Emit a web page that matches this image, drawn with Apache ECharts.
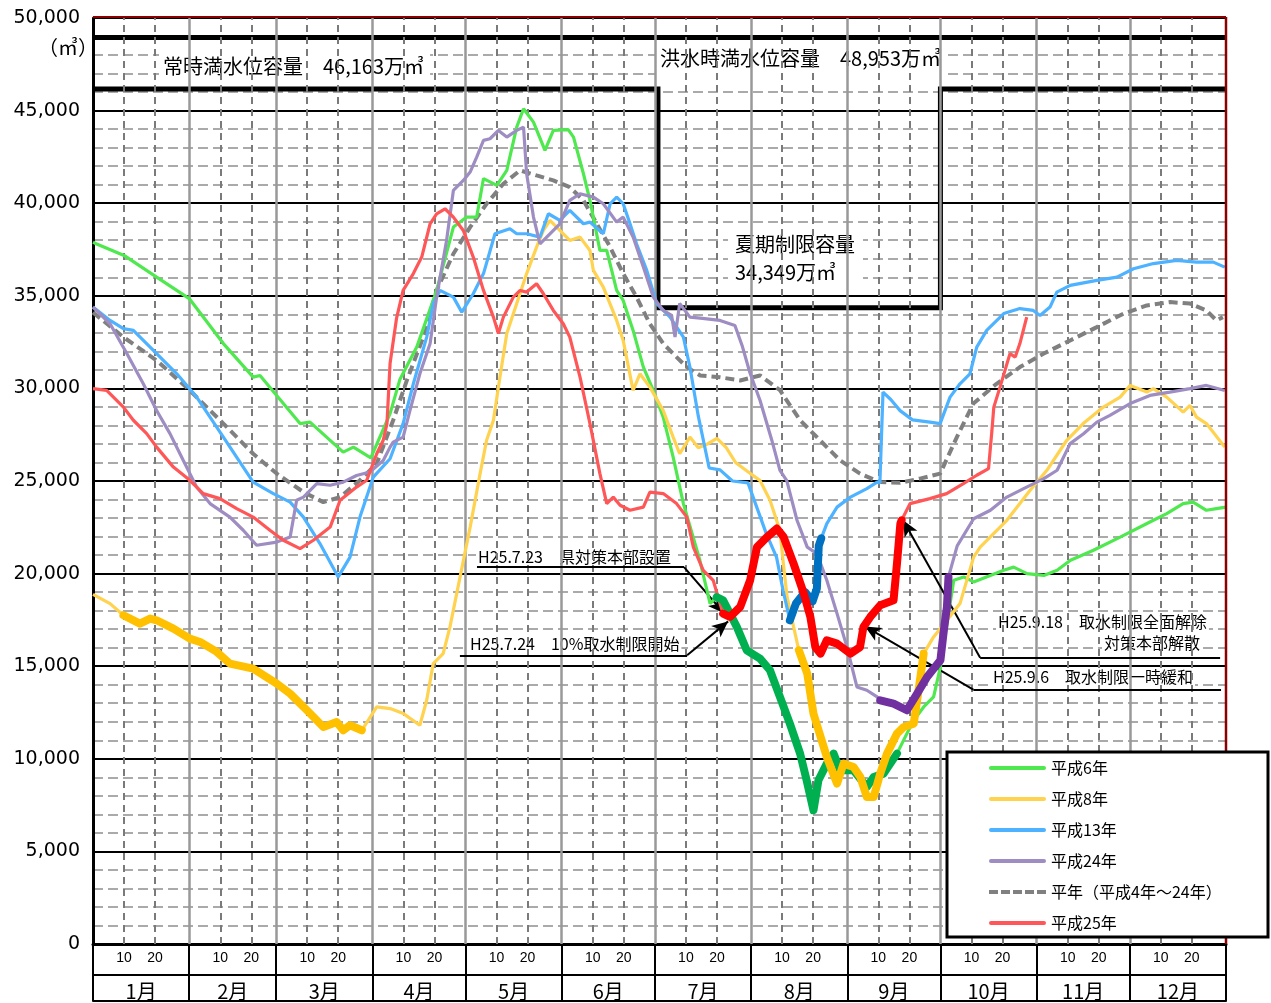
<!DOCTYPE html>
<html><head><meta charset="utf-8">
<script src="https://cdn.jsdelivr.net/npm/echarts@6/dist/echarts.min.js"></script>
<style>html,body{margin:0;padding:0;background:#fff}#c{width:1271px;height:1003px}</style>
</head><body><div id="c"></div>
<script>
// ---- axis / category data ----
const monthNames = ['1月','2月','3月','4月','5月','6月','7月','8月','9月','10月','11月','12月'];
const monthStarts = [0,31,59,90,120,151,181,212,243,273,304,334,365];
const dayTicks = [10,20];

// ---- reservoir capacities (万m3) ----
const capFlood = 48953;
const capNormal = 46163;
const capSummer = 34349;
const summerStart = 182;
const summerEnd = 273;

// ---- series values [day of year, storage] ----
const h6 = [[0,37900],[1,37810],[10,37180],[20.5,36010],[31,34850],[42,32420],[51.6,30610],[53.8,30700],[66.7,28100],[69.9,28180],[80.6,26560],[83.9,26830],[89.5,26250],[95.7,28640],[98.9,30500],[104.3,32230],[110.7,35290],[116.1,38710],[120.4,39250],[123.6,39250],[125.8,41330],[130.1,40960],[133.3,41770],[136.5,44110],[138.7,45100],[141.9,44380],[145.6,42850],[148.3,43930],[153.1,43970],[154.8,43570],[158,41590],[160.1,40150],[163.3,37450],[165.5,37450],[168.7,35290],[170.8,34750],[174,33130],[177.3,31150],[180.5,29890],[183.7,28450],[186.9,26290],[190.2,23780],[195.5,20720],[198.8,18380],[200.9,18730],[203,18560],[207.4,17120],[210.6,15860],[214.9,15410],[218.1,14780],[221.3,13340],[224.5,11900],[227.8,10280],[229.9,8840],[232.1,7220],[233.7,8840],[236.4,9740],[238.6,10280],[240.7,9380],[245,9380],[249.3,8480],[251.5,9020],[254.7,9200],[259,10280],[262.2,11360],[264.4,12080],[267.6,12800],[270.8,13340],[273,14960],[275.1,17300],[277.3,19640],[280.5,19820],[283.7,19550],[293.4,20180],[296.6,20350],[300.9,20000],[306.3,19900],[310.6,20180],[314.9,20720],[322.3,21260],[330.9,21970],[341.6,22880],[345.9,23240],[351.2,23780],[354.4,23860],[358.7,23420],[361.9,23510],[365,23590]];
const h8 = [[0,18880],[5.5,18380],[9.8,17750],[15.1,17300],[18.4,17570],[20.5,17480],[25.9,17030],[31.2,16490],[34.5,16310],[39.9,15770],[44.1,15140],[51.6,14870],[59.2,14060],[63.5,13520],[68.9,12620],[74.2,11720],[78.5,11990],[80.6,11540],[82.8,11810],[86.6,11540],[91.4,12800],[95.7,12710],[100,12440],[105.3,11810],[107.5,13160],[109.6,15140],[112.8,15680],[115,17120],[121.5,22510],[124.7,25400],[126.8,27200],[129,28280],[131.1,30610],[133.3,32960],[136.5,34580],[139.7,36200],[142.9,37630],[145.1,38530],[147.2,39070],[150.4,38530],[153.6,37990],[156.9,38170],[160.1,37450],[161.2,36370],[164.4,35470],[168.7,33670],[170.8,32590],[174,29890],[176.2,30790],[179.4,30070],[183.7,28810],[186.9,27370],[189,26470],[192.3,27370],[195,26800],[198,27000],[201,27300],[204,26800],[207,26000],[211,25500],[214.9,25020],[218.1,23960],[221.3,22330],[222.4,20540],[223.6,18740],[225.7,17120],[227.4,15860],[230.1,14600],[232.1,12440],[234.4,11180],[236.4,10100],[239.7,8660],[241.8,9740],[245,9560],[247.2,9020],[249.3,7940],[251.5,7940],[253.6,9200],[255.8,10280],[259,11360],[261.2,11720],[264.4,11900],[265.5,13160],[267.6,15680],[270.8,16580],[275.1,17480],[279.3,18380],[283.7,20890],[285.8,21430],[294.4,22880],[301.9,24500],[307.3,25580],[313.7,27200],[319,28100],[325.5,28990],[330.9,29530],[334.1,30160],[339.5,29800],[341.6,29990],[345.9,29530],[351.2,28720],[353.4,29080],[355.5,28450],[358.7,28100],[364.6,26830]];
const h13 = [[0,34390],[5.5,33670],[9.8,33230],[13,33130],[20.5,31880],[27,30790],[33.4,29530],[42,27370],[51.6,24940],[58.1,24320],[63.5,23860],[67.8,23050],[73.1,21620],[79,19820],[82.8,20890],[86,23050],[90.3,25210],[95.7,26200],[99.9,28100],[103.2,30250],[107.5,32770],[109.6,34580],[111.8,35290],[116.1,34930],[118.8,34120],[122.5,35110],[125.8,36200],[129.5,38350],[134.3,38620],[136.5,38350],[139.7,38350],[144,38170],[146.7,39430],[150.4,39070],[153.6,39610],[158,38890],[160.1,38980],[164.4,38350],[166.6,39970],[168.7,40330],[170.8,39970],[173,38890],[175.1,37810],[178.4,36370],[181.6,34580],[185.9,33850],[190.2,32770],[192.3,31150],[195,28500],[198.5,25700],[202,25600],[206,25000],[211,24900],[216.9,22160],[220.2,20890],[222.3,19100],[224.5,17480],[226.5,18400],[229.4,19000],[231.8,18500],[233.2,19200],[233.8,21500],[234.6,21900],[236.4,22700],[239.7,23590],[244,24130],[249.3,24590],[252.6,24940],[253.5,24900],[254.5,29800],[257,29400],[260,28800],[264,28300],[269.6,28180],[272.9,28100],[276.1,29530],[279.3,30250],[282.5,30790],[284.7,32230],[287.9,33130],[293.4,34040],[298.6,34310],[302.9,34210],[305.1,33940],[308.3,34390],[310.5,35200],[314.8,35560],[323.4,35830],[329.9,36010],[335.2,36460],[341.6,36740],[349.1,36910],[355.5,36820],[360.9,36820],[364.6,36550]];
const h24 = [[0,34390],[5.5,33490],[10.9,31880],[16.2,30250],[20.5,28810],[24.8,27560],[29.1,26110],[33.4,24670],[37.7,23780],[44.1,23050],[48.4,22340],[52.7,21530],[59.2,21700],[63.5,21970],[65.6,23960],[67.8,24130],[72.1,24860],[76.4,24770],[80.6,24940],[84.9,25300],[89.2,25490],[93.5,26110],[95.7,26830],[96.7,27100],[99.9,27370],[102.1,28800],[105.3,30790],[108.6,32420],[110.7,34930],[113.9,37990],[116.1,40690],[119.3,41230],[121.5,41680],[123.6,42490],[125.8,43390],[127.9,43480],[130.6,43930],[133.3,43570],[136.5,43930],[138.7,44110],[139.7,41590],[141.9,39250],[144,37810],[147.2,38350],[150.4,38890],[153.6,40150],[156.9,40510],[161.2,40330],[164.4,39970],[168.7,38980],[170.8,39250],[174,38170],[177.3,36550],[180.5,34930],[183.7,34210],[186.4,33940],[187.5,32770],[189,34580],[192.3,33850],[195.6,33790],[202,33670],[206.8,33400],[209.1,32320],[211.6,30860],[214.9,29350],[218.7,27190],[221.3,25570],[223.5,25020],[226.8,22880],[230.1,21430],[233.2,21080],[236.4,19640],[239.7,17840],[242.9,16030],[246.1,13880],[249.3,13700],[252.6,13340],[253.6,13160],[257.9,12980],[262.2,12620],[265.5,13520],[268.7,14420],[273,15320],[274.1,16940],[275.1,18200],[275.6,19820],[278.4,21500],[283.7,22960],[289.1,23420],[294.4,24130],[299.8,24590],[306.3,25130],[310.6,25580],[314.8,27020],[319.1,27550],[323.4,28180],[327.6,28540],[334.1,29180],[340.5,29620],[346.9,29800],[353.4,29990],[358.7,30160],[364.6,29890]];
const heinen = [[0,34100],[9.8,32770],[20.5,31510],[31.2,29890],[42,28100],[51.6,26470],[59.2,25400],[67.8,24400],[74.2,23860],[79.6,24130],[86,25040],[91.4,25940],[96.7,28280],[101.1,30430],[106.4,32770],[110.7,35290],[116.1,37270],[121.5,38710],[126.8,39970],[132.2,41050],[137.6,41770],[142.9,41500],[148.3,41230],[153.6,40870],[158,40150],[162.3,38890],[166.6,37630],[170.8,36200],[175.1,34930],[179.4,33490],[183.7,32420],[188,31690],[191.3,31150],[195.6,30700],[202,30600],[208.5,30430],[214.9,30700],[221.3,29900],[227.8,28280],[234.2,27200],[240.7,26110],[247.1,25400],[253.5,24940],[260,24900],[266.4,25130],[272.9,25400],[278.3,27370],[283.6,29180],[291.1,30250],[298.6,31150],[306.3,31880],[314.8,32590],[323.4,33310],[332,34040],[339.5,34480],[347,34660],[353.4,34580],[358.7,34210],[361.9,33670],[364,33850]];
const h25 = [[0,29990],[4.4,29890],[9.8,28990],[13,28280],[17.3,27560],[20.5,26830],[25.9,25750],[31.2,25040],[35.5,24320],[40.9,24050],[46.3,23510],[51.6,23050],[57,22340],[61.3,21800],[66.7,21350],[71,21800],[76.4,22510],[79.6,23960],[84.9,24670],[88.2,25040],[91.4,26470],[93.5,27200],[94.7,28100],[95.7,31340],[97.8,33800],[99.9,35290],[103.2,36200],[105.9,37090],[108.6,38890],[110.7,39430],[113.4,39700],[116.1,39250],[119.3,38530],[122.5,37090],[125.8,35290],[129,33850],[130.6,32960],[132.2,33850],[135.4,34930],[137.6,35290],[139.7,35200],[142.9,35650],[145.1,35110],[148.3,34210],[151.5,33490],[153.6,32770],[156.9,30610],[160.1,28100],[163.3,25400],[165.5,23780],[167.6,24130],[169.8,23690],[173,23420],[177.3,23590],[179.4,24400],[183.7,24320],[188,23780],[191.3,23050],[193.4,21430],[196.6,20180],[199.8,19640],[202,18380],[203,17840],[205.2,17660],[208.5,18200],[211.7,19640],[213.9,21430],[217.1,21970],[220.3,22430],[222.5,21970],[225.7,20540],[229,18920],[231.1,17660],[232.7,16030],[234.4,15680],[236.4,16400],[239.7,16220],[244,15680],[247.1,16030],[248.2,17120],[250.4,17660],[253.6,18290],[257.9,18560],[259,20540],[260.1,22700],[260.5,22880],[263.2,23780],[269.6,24050],[275,24320],[280.4,24860],[284.7,25310],[288.5,25670],[289.6,27740],[290.2,28990],[292.2,30070],[295.4,31880],[297.1,31690],[298.6,32420],[300.8,33850]];

// drought periods drawn with thick lines [startDay, endDay]
const h6Drought = [200.9, 259];
const h8Drought = [[9.8, 86.6], [227.4, 267.6]];
const h13Drought = [224.5, 234.6];
const h24Drought = [253.6, 275.6];
const h25Drought = [203, 260.5];

// annotations in [day, value]: underline and arrow (start -> tip)
const notes = [
  {text:'H25.7.23　県対策本部設置', line:[[123.7,20350],[190.4,20350]], arrow:[[190.4,20350],[203.3,17860]]},
  {text:'H25.7.24　10%取水制限開始', line:[[118.2,15590],[191.4,15590]], arrow:[[191.4,15590],[204.6,17420]]},
  {text:'H25.9.18　取水制限全面解除', line:[[285.8,15460],[363.1,15460]], arrow:[[285.8,15460],[261.0,22880]]},
  {text:'H25.9.6　取水制限一時緩和', line:[[283.6,13740],[363.4,13740]], arrow:[[283.6,13740],[248.7,17150]]}
];
const note3b = '対策本部解散';

const JP = '"Noto Sans CJK JP"';
function seg(data, a, b){ return data.filter(p => p[0] >= a - 1e-6 && p[0] <= b + 1e-6); }

const vLines = [];
for (let i = 1; i < 12; i++) vLines.push({xAxis: monthStarts[i], lineStyle:{color:'#999', width:2.5, type:'solid'}});
for (let i = 0; i < 12; i++) dayTicks.forEach(d => vLines.push({xAxis: monthStarts[i] + d, lineStyle:{color:'#7a7a7a', width:2, type:[7,5]}}));

function light(name, data, color, z, dashed){
  return {name, type:'line', data, symbol:'none', showSymbol:false, z, silent:true,
    lineStyle:{color, width: dashed ? 4 : 3.2, type: dashed ? [9,5] : 'solid'},
    itemStyle:{color}};
}
function thick(data, color, z){
  return {type:'line', data, symbol:'none', z, silent:true,
    lineStyle:{color, width:8, cap:'round', join:'round'}, itemStyle:{color}};
}

const chart = echarts.init(document.getElementById('c'), null, {renderer:'canvas'});

const series = [
  {type:'line', data:[], z:1, silent:true, markLine:{silent:true, symbol:['none','none'], label:{show:false}, data:vLines, animation:false}},
  {type:'line', data:[[0,capFlood],[365,capFlood]], symbol:'none', z:4, silent:true, lineStyle:{color:'#000', width:5}},
  {type:'line', data:[[0,capNormal],[summerStart,capNormal],[summerStart,capSummer],[summerEnd,capSummer],[summerEnd,capNormal],[365,capNormal]], symbol:'none', z:4, silent:true, lineStyle:{color:'#000', width:5, join:'miter'}},
  light('平年（平成4年～24年）', heinen, '#808080', 5, true),
  light('平成6年', h6, '#4fe84f', 6),
  light('平成8年', h8, '#ffd24f', 6),
  light('平成13年', h13, '#4db2ff', 6),
  light('平成24年', h24, '#9e8dc2', 6),
  light('平成25年', h25, '#ff5757', 7),
  thick(seg(h6, h6Drought[0], h6Drought[1]), '#00b050', 8),
  thick(seg(h8, h8Drought[0][0], h8Drought[0][1]), '#ffc000', 8),
  thick(seg(h8, h8Drought[1][0], h8Drought[1][1]), '#ffc000', 8),
  thick(seg(h13, h13Drought[0], h13Drought[1]), '#0070c0', 8),
  thick(seg(h24, h24Drought[0], h24Drought[1]), '#7030a0', 8),
  thick(seg(h25, h25Drought[0], h25Drought[1]), '#ff0000', 9),
  {type:'line', data:[], z:12, silent:true, markLine:{silent:true, animation:false, symbol:['none','none'], symbolSize:[11,16], label:{show:false},
    lineStyle:{color:'#000', width:2, type:'solid'},
    data: notes.flatMap(n => [
      [{coord:n.line[0], symbol:'none'}, {coord:n.line[1], symbol:'none'}],
      [{coord:n.arrow[0], symbol:'none'}, {coord:n.arrow[1], symbol:'arrow'}]
    ])}}
];

const monthMid = monthNames.map((m, i) => (monthStarts[i] + monthStarts[i+1]) / 2);
const dayVals = [];
for (let i = 0; i < 12; i++) dayTicks.forEach(d => dayVals.push(monthStarts[i] + d));

const graphic = [
  {type:'text', left:159, top:48, z:3, style:{text:'常時満水位容量　46,163万㎥', font:'20px '+JP, fill:'#000', backgroundColor:'#fff', padding:[8,6,8,4]}},
  {type:'text', left:655, top:41, z:3, style:{text:'洪水時満水位容量　48,953万㎥', font:'20px '+JP, fill:'#000', backgroundColor:'#fff', padding:[7,6,7,5]}},
  {type:'text', left:728, top:224, z:3, style:{text:'夏期制限容量\n34,349万㎥', font:'20px '+JP, lineHeight:28, fill:'#000', backgroundColor:'#fff', padding:[6,8,6,7]}},
  {type:'text', left:38, top:37, z:3, style:{text:'（㎥）', font:'20px '+JP, fill:'#000'}},
  {type:'text', left:476, top:548, z:3, style:{text:notes[0].text, font:'16px '+JP, fill:'#000', backgroundColor:'#fff', padding:[1,2,1,2]}},
  {type:'text', left:468, top:635, z:3, style:{text:notes[1].text, font:'16px '+JP, fill:'#000', backgroundColor:'#fff', padding:[1,2,1,2]}},
  {type:'text', left:996, top:613, z:3, style:{text:notes[2].text, font:'16px '+JP, fill:'#000', backgroundColor:'#fff', padding:[1,2,1,2]}},
  {type:'text', right:1271-1202, top:634, z:3, style:{text:note3b, font:'16px '+JP, fill:'#000', backgroundColor:'#fff', padding:[1,2,1,2]}},
  {type:'text', left:991, top:668, z:3, style:{text:notes[3].text, font:'16px '+JP, fill:'#000', backgroundColor:'#fff', padding:[1,2,1,2]}},
  {type:'line', z:9, shape:{x1:93, y1:17, x2:1226, y2:17}, style:{stroke:'#8b0000', lineWidth:2}},
  {type:'line', z:9, shape:{x1:1226, y1:17, x2:1226, y2:944}, style:{stroke:'#8b0000', lineWidth:2.5}},
  {type:'rect', z:15, shape:{x:947, y:752, width:321, height:185}, style:{fill:'#fff', stroke:'#000', lineWidth:3}}
];

const solidIcon = 'path://M2,0 L55,0 A2,2 0 0 1 55,4 L2,4 A2,2 0 0 1 2,0 Z';
const dashIcon = 'path://M0,0h9v4h-9zM12,0h9v4h-9zM24,0h9v4h-9zM36,0h9v4h-9zM48,0h9v4h-9z';
const legendNames = ['平成6年','平成8年','平成13年','平成24年','平年（平成4年～24年）','平成25年'];

chart.setOption({
  animation:false,
  backgroundColor:'#fff',
  grid:{left:93, right:45, top:18, bottom:59, containLabel:false},
  legend:{
    data: legendNames.map(n => ({name:n, icon: n.startsWith('平年') ? dashIcon : solidIcon})),
    orient:'vertical', left:989, top:760, padding:0, itemGap:15, itemWidth:57, itemHeight:5, z:20,
    selectedMode:false,
    textStyle:{fontSize:16, lineHeight:16, fontFamily:'Noto Sans CJK JP', color:'#000'}
  },
  xAxis:[
    {type:'value', min:0, max:365, position:'bottom',
      axisLine:{show:true, lineStyle:{color:'#000', width:3}},
      axisTick:{show:true, customValues:monthStarts, length:57, inside:false, lineStyle:{color:'#000', width:2}},
      axisLabel:{show:true, customValues:dayVals, margin:7, fontSize:14, fontFamily:'Liberation Sans', color:'#000',
        formatter:v => { let d = v; for (let i = 11; i >= 0; i--) { if (v > monthStarts[i]) { d = v - monthStarts[i]; break; } } return String(Math.round(d)); }},
      splitLine:{show:false}},
    {type:'value', min:0, max:365, position:'bottom', offset:31,
      axisLine:{show:true, lineStyle:{color:'#000', width:2}},
      axisTick:{show:false},
      axisLabel:{show:true, customValues:monthMid, margin:6, fontSize:20, fontFamily:'Noto Sans CJK JP', color:'#000',
        formatter:v => { let best = 0; monthMid.forEach((m, i) => { if (Math.abs(m - v) < Math.abs(monthMid[best] - v)) best = i; }); return monthNames[best]; }},
      splitLine:{show:false}},
    {type:'value', min:0, max:365, position:'bottom', offset:57,
      axisLine:{show:true, lineStyle:{color:'#000', width:2}}, axisTick:{show:false}, axisLabel:{show:false}, splitLine:{show:false}}
  ],
  yAxis:{type:'value', min:0, max:50000, interval:5000,
    axisLine:{show:true, lineStyle:{color:'#000', width:3}},
    axisTick:{show:false},
    axisLabel:{margin:13, fontSize:19, fontFamily:'DejaVu Sans', color:'#000', formatter:v => v.toLocaleString('en-US')},
    splitLine:{show:true, lineStyle:{color:'#000', width:2}},
    minorTick:{show:false, splitNumber:5},
    minorSplitLine:{show:true, lineStyle:{color:'#aaa', width:2, type:[10,5]}}
  },
  graphic,
  series
});
</script>
</body></html>
